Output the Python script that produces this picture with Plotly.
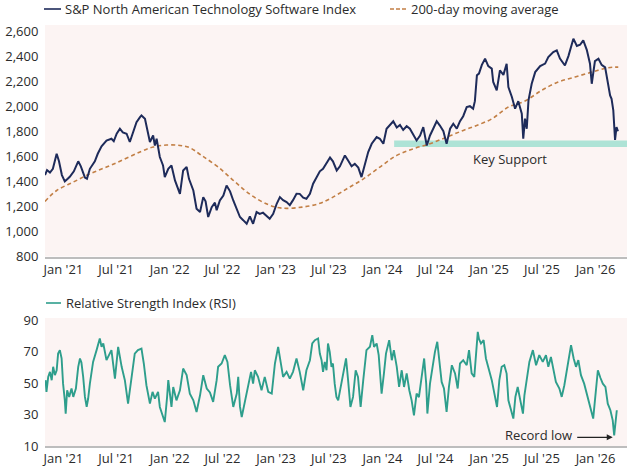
import plotly.graph_objects as go
from plotly.subplots import make_subplots

# ---------------- data ----------------
index_dates = [
    "2020-10-30", "2020-11-06", "2020-11-16", "2020-11-26", "2020-12-09", "2020-12-17", "2020-12-27",
    "2021-01-06", "2021-01-16", "2021-01-23", "2021-02-06", "2021-02-21", "2021-03-02", "2021-03-16",
    "2021-03-23", "2021-04-02", "2021-04-19", "2021-04-29", "2021-05-12", "2021-05-29", "2021-06-15",
    "2021-06-23", "2021-07-03", "2021-07-14", "2021-07-24", "2021-08-06", "2021-08-17", "2021-08-29",
    "2021-09-09", "2021-09-21", "2021-09-26", "2021-10-08", "2021-10-19", "2021-10-25", "2021-11-05",
    "2021-11-11", "2021-11-17", "2021-11-28", "2021-12-09", "2021-12-15", "2021-12-27", "2022-01-07",
    "2022-01-19", "2022-01-30", "2022-02-05", "2022-02-16", "2022-02-28", "2022-03-08", "2022-03-23",
    "2022-04-03", "2022-04-15", "2022-04-26", "2022-05-04", "2022-05-13", "2022-05-25", "2022-06-05",
    "2022-06-11", "2022-06-22", "2022-07-04", "2022-07-15", "2022-07-27", "2022-08-07", "2022-08-19",
    "2022-08-30", "2022-09-10", "2022-09-22", "2022-10-03", "2022-10-14", "2022-10-26", "2022-11-06",
    "2022-11-17", "2022-11-29", "2022-12-10", "2022-12-22", "2023-01-03", "2023-01-14", "2023-01-25",
    "2023-02-06", "2023-02-17", "2023-02-28", "2023-03-12", "2023-03-23", "2023-04-04", "2023-04-15",
    "2023-04-27", "2023-05-08", "2023-05-20", "2023-05-31", "2023-06-11", "2023-06-23", "2023-07-05",
    "2023-07-15", "2023-07-28", "2023-08-08", "2023-08-25", "2023-09-04", "2023-09-17", "2023-09-28",
    "2023-10-10", "2023-10-21", "2023-11-02", "2023-11-13", "2023-11-25", "2023-12-12", "2023-12-23",
    "2024-01-04", "2024-01-15", "2024-01-27", "2024-02-07", "2024-02-19", "2024-03-01", "2024-03-12",
    "2024-03-24", "2024-04-04", "2024-04-16", "2024-04-27", "2024-05-09", "2024-05-20", "2024-06-01",
    "2024-06-12", "2024-06-23", "2024-07-05", "2024-07-16", "2024-07-28", "2024-08-08", "2024-08-20",
    "2024-08-31", "2024-09-12", "2024-09-23", "2024-10-04", "2024-10-16", "2024-10-27", "2024-11-07",
    "2024-11-13", "2024-11-20", "2024-11-27", "2024-12-07", "2024-12-18", "2024-12-29", "2025-01-10",
    "2025-01-15", "2025-01-27", "2025-02-07", "2025-02-19", "2025-03-02", "2025-03-08", "2025-03-20",
    "2025-03-31", "2025-04-11", "2025-04-23", "2025-04-28", "2025-05-04", "2025-05-10", "2025-05-16",
    "2025-05-27", "2025-06-08", "2025-06-25", "2025-07-12", "2025-07-23", "2025-08-09", "2025-08-21",
    "2025-09-01", "2025-09-18", "2025-09-30", "2025-10-17", "2025-10-29", "2025-11-09", "2025-11-20",
    "2025-12-02", "2025-12-13", "2025-12-19", "2025-12-30", "2026-01-11", "2026-01-22", "2026-02-03",
    "2026-02-08", "2026-02-20", "2026-02-25", "2026-03-03", "2026-03-09", "2026-03-14", "2026-03-19",
]
index_values = [
    1450, 1490, 1470, 1500, 1620, 1560, 1450,
    1400, 1420, 1436, 1480, 1560, 1520, 1430,
    1420, 1500, 1560, 1620, 1680, 1726, 1740,
    1720, 1780, 1820, 1790, 1780, 1714, 1793,
    1873, 1913, 1926, 1900, 1766, 1714, 1766,
    1686, 1740, 1594, 1527, 1434, 1500, 1527,
    1407, 1340, 1300, 1487, 1514, 1420, 1327,
    1181, 1155, 1274, 1240, 1115, 1194, 1230,
    1170, 1247, 1287, 1367, 1320, 1247, 1181,
    1115, 1090, 1061, 1120, 1061, 1155, 1140,
    1150, 1127, 1101, 1140, 1221, 1274, 1250,
    1234, 1210, 1250, 1301, 1300, 1270, 1261,
    1300, 1381, 1434, 1480, 1500, 1540, 1590,
    1560, 1487, 1520, 1607, 1570, 1520, 1540,
    1510, 1434, 1530, 1634, 1700, 1753, 1740,
    1700, 1820, 1850, 1880, 1830, 1850, 1810,
    1840, 1820, 1766, 1726, 1766, 1833, 1686,
    1766, 1820, 1880, 1845, 1800, 1700, 1820,
    1860, 1820, 1880, 1920, 1993, 2000, 1980,
    2040, 2246, 2260, 2330, 2379, 2320, 2300,
    2193, 2126, 2285, 2250, 2339, 2153, 2073,
    1980, 2040, 1940, 1740, 1900, 1820, 2046,
    2179, 2272, 2320, 2340, 2392, 2432, 2445,
    2380, 2325, 2400, 2539, 2480, 2490, 2525,
    2450, 2339, 2179, 2360, 2379, 2330, 2310,
    2233, 2086, 2059, 1966, 1730, 1833, 1800,
]

ma_dates = [
    "2020-10-30", "2020-12-09", "2021-02-04", "2021-04-02", "2021-05-29", "2021-07-25", "2021-09-21",
    "2021-11-05", "2021-12-21", "2022-02-05", "2022-03-11", "2022-04-20", "2022-06-16", "2022-08-14",
    "2022-10-09", "2022-12-06", "2023-01-21", "2023-03-31", "2023-05-27", "2023-07-05", "2023-09-01",
    "2023-10-28", "2023-12-23", "2024-02-19", "2024-04-16", "2024-06-12", "2024-08-08", "2024-10-04",
    "2024-11-19", "2025-01-11", "2025-03-08", "2025-05-04", "2025-06-30", "2025-08-26", "2025-10-23",
    "2025-12-19", "2026-02-14", "2026-03-20",
]
ma_values = [
    1240, 1327, 1394, 1460, 1514, 1572, 1634,
    1674, 1690, 1686, 1668, 1607, 1514, 1394,
    1287, 1213, 1186, 1194, 1221, 1261, 1341,
    1420, 1514, 1607, 1660, 1700, 1753, 1806,
    1846, 1900, 1993, 2041, 2126, 2193, 2233,
    2272, 2307, 2312,
]

rsi_dates = [
    "2020-11-01", "2020-11-04", "2020-11-10", "2020-11-16", "2020-11-22", "2020-11-27", "2020-12-03",
    "2020-12-09", "2020-12-14", "2020-12-20", "2020-12-26", "2020-12-31", "2021-01-06", "2021-01-09",
    "2021-01-14", "2021-01-21", "2021-01-29", "2021-02-04", "2021-02-13", "2021-02-21", "2021-02-27",
    "2021-03-04", "2021-03-10", "2021-03-16", "2021-03-22", "2021-03-27", "2021-04-02", "2021-04-13",
    "2021-04-25", "2021-05-06", "2021-05-12", "2021-05-18", "2021-05-29", "2021-06-10", "2021-06-15",
    "2021-06-27", "2021-07-08", "2021-07-20", "2021-07-31", "2021-08-11", "2021-08-23", "2021-09-03",
    "2021-09-14", "2021-09-26", "2021-10-04", "2021-10-13", "2021-10-25", "2021-11-03", "2021-11-11",
    "2021-11-22", "2021-11-28", "2021-12-09", "2021-12-15", "2021-12-23", "2021-12-27", "2022-01-07",
    "2022-01-13", "2022-01-24", "2022-02-05", "2022-02-16", "2022-02-28", "2022-03-11", "2022-03-23",
    "2022-04-03", "2022-04-15", "2022-04-26", "2022-05-08", "2022-05-19", "2022-05-30", "2022-06-11",
    "2022-06-16", "2022-06-28", "2022-07-09", "2022-07-18", "2022-07-27", "2022-08-07", "2022-08-19",
    "2022-08-24", "2022-08-30", "2022-09-05", "2022-09-16", "2022-09-27", "2022-10-07", "2022-10-14",
    "2022-10-20", "2022-10-31", "2022-11-12", "2022-11-23", "2022-12-05", "2022-12-17", "2022-12-28",
    "2023-01-08", "2023-01-17", "2023-01-25", "2023-02-06", "2023-02-17", "2023-02-28", "2023-03-12",
    "2023-03-23", "2023-04-04", "2023-04-15", "2023-04-27", "2023-05-05", "2023-05-14", "2023-05-25",
    "2023-05-31", "2023-06-06", "2023-06-11", "2023-06-17", "2023-06-23", "2023-06-28", "2023-07-04",
    "2023-07-10", "2023-07-15", "2023-07-21", "2023-07-27", "2023-08-02", "2023-08-08", "2023-08-19",
    "2023-08-29", "2023-09-05", "2023-09-13", "2023-09-22", "2023-10-01", "2023-10-09", "2023-10-18",
    "2023-10-27", "2023-11-07", "2023-11-19", "2023-11-27", "2023-12-03", "2023-12-12", "2023-12-19",
    "2023-12-29", "2024-01-06", "2024-01-13", "2024-01-24", "2024-02-02", "2024-02-09", "2024-02-19",
    "2024-02-27", "2024-03-07", "2024-03-15", "2024-03-24", "2024-04-02", "2024-04-10", "2024-04-18",
    "2024-04-27", "2024-05-05", "2024-05-15", "2024-05-23", "2024-05-30", "2024-06-03", "2024-06-12",
    "2024-06-21", "2024-06-29", "2024-07-07", "2024-07-14", "2024-07-22", "2024-07-30", "2024-08-08",
    "2024-08-16", "2024-08-26", "2024-09-06", "2024-09-15", "2024-09-23", "2024-10-04", "2024-10-16",
    "2024-10-24", "2024-11-02", "2024-11-11", "2024-11-23", "2024-11-27", "2024-12-04", "2024-12-13",
    "2024-12-21", "2025-01-02", "2025-01-10", "2025-01-19", "2025-01-28", "2025-02-05", "2025-02-13",
    "2025-02-22", "2025-03-02", "2025-03-08", "2025-03-17", "2025-03-25", "2025-04-01", "2025-04-09",
    "2025-04-18", "2025-04-27", "2025-05-02", "2025-05-11", "2025-05-19", "2025-05-31", "2025-06-11",
    "2025-06-22", "2025-07-04", "2025-07-15", "2025-07-23", "2025-08-01", "2025-08-11", "2025-08-18",
    "2025-08-30", "2025-09-07", "2025-09-16", "2025-09-27", "2025-10-09", "2025-10-18", "2025-10-26",
    "2025-11-03", "2025-11-12", "2025-11-23", "2025-12-05", "2025-12-16", "2025-12-24", "2025-12-30",
    "2026-01-09", "2026-01-18", "2026-01-26", "2026-02-04", "2026-02-12", "2026-02-21", "2026-03-01",
    "2026-03-06", "2026-03-09", "2026-03-15",
]
rsi_values = [
    51.8, 44.4, 53.9, 57.1, 51.8, 60.3, 55.0,
    58.1, 68.7, 70.9, 65.6, 49.6, 39.0, 30.5,
    45.4, 41.2, 46.5, 41.2, 46.5, 60.3, 65.6,
    63.0, 53.9, 41.2, 34.8, 40.0, 49.6, 63.4,
    70.9, 78.3, 73.0, 75.1, 64.5, 68.7, 70.9,
    52.8, 73.0, 60.3, 51.8, 36.9, 53.9, 68.7,
    70.9, 71.9, 62.4, 48.6, 36.9, 44.4, 40.1,
    44.4, 34.8, 28.4, 25.2, 41.2, 51.8, 34.8,
    47.5, 39.0, 45.4, 59.2, 55.0, 43.3, 39.0,
    31.6, 42.2, 55.0, 46.5, 44.0, 38.0, 51.8,
    60.3, 62.4, 67.7, 63.4, 48.6, 34.8, 43.3,
    53.9, 35.0, 28.4, 39.0, 49.6, 57.1, 49.6,
    58.1, 53.9, 45.4, 53.9, 44.4, 43.3, 62.4,
    73.0, 62.4, 53.9, 57.1, 52.8, 57.1, 65.6,
    57.1, 45.4, 58.1, 64.5, 75.1, 77.2, 78.3,
    68.7, 64.5, 57.1, 63.4, 58.1, 75.1, 69.8,
    60.3, 62.4, 49.6, 41.2, 39.0, 45.4, 56.1,
    65.6, 51.8, 34.8, 41.2, 58.1, 53.9, 34.8,
    51.8, 70.9, 73.0, 80.4, 73.0, 75.1, 67.7,
    43.3, 56.1, 68.7, 77.2, 64.5, 70.9, 60.3,
    47.5, 58.1, 47.5, 56.1, 45.4, 39.0, 29.5,
    43.3, 41.0, 56.1, 65.6, 49.6, 30.6, 49.6,
    61.3, 69.8, 76.2, 65.6, 50.7, 46.5, 31.6,
    47.5, 61.3, 56.1, 46.5, 62.4, 64.5, 61.3,
    70.9, 56.1, 53.9, 82.5, 78.0, 75.1, 77.2,
    65.6, 58.1, 51.8, 43.3, 34.8, 51.8, 60.3,
    61.3, 56.0, 39.0, 32.7, 27.4, 41.2, 47.5,
    39.0, 30.6, 42.2, 53.9, 63.4, 70.9, 61.3,
    67.7, 63.4, 67.7, 60.3, 66.6, 56.1, 50.7,
    46.5, 41.2, 48.6, 60.3, 74.1, 65.6, 60.3,
    64.5, 55.0, 49.6, 41.2, 34.8, 27.4, 39.0,
    58.1, 53.2, 49.6, 47.5, 36.9, 32.7, 26.3,
    16.8, 21.0, 32.7,
]

tick_dates = ["2021-01-01", "2021-07-01", "2022-01-01", "2022-07-01", "2023-01-01", "2023-07-01",
              "2024-01-01", "2024-07-01", "2025-01-01", "2025-07-01", "2026-01-01"]
tick_labels = ["Jan '21", "Jul '21", "Jan '22", "Jul '22", "Jan '23", "Jul '23",
               "Jan '24", "Jul '24", "Jan '25", "Jul '25", "Jan '26"]
price_ticks = [800, 1000, 1200, 1400, 1600, 1800, 2000, 2200, 2400, 2600]
price_tick_labels = ["800", "1,000", "1,200", "1,400", "1,600", "1,800", "2,000", "2,200", "2,400", "2,600"]
rsi_ticks = [10, 30, 50, 70, 90]

support_start = "2024-02-10"
support_low, support_high = 1674, 1726
key_support_label = ("2025-03-14", 1575)
record_low_label = ("2025-06-21", 16.8)
record_low_point = ("2026-03-01", 15.5)

x_range = ["2020-10-30", "2026-04-19"]

# ---------------- styling ----------------
NAVY = "#1E2B5A"
ORANGE = "#C27F45"
TEAL = "#2E9E8C"
MINT = "#AEE3D6"
PINK = "#FCF4F3"
TEXT = "#2B2B2B"
AXIS = "#BDBDBD"
FONT = "Open Sans"

W, H = 631, 474
ML, MR, MT, MB = 45, 4, 25, 28
PW, PH = W - ML - MR, H - MT - MB


def px_x(px):
    return (px - ML) / PW


def px_y(py):
    return (H - MB - py) / PH


fig = make_subplots(rows=2, cols=1)

fig.add_trace(go.Scatter(x=ma_dates, y=ma_values, mode="lines", line_shape="spline",
                         line=dict(color=ORANGE, width=1.6, dash="4px,3px"),
                         showlegend=False, hoverinfo="skip"), row=1, col=1)
fig.add_trace(go.Scatter(x=index_dates, y=index_values, mode="lines",
                         line=dict(color=NAVY, width=2.0),
                         showlegend=False), row=1, col=1)
fig.add_trace(go.Scatter(x=rsi_dates, y=rsi_values, mode="lines",
                         line=dict(color=TEAL, width=1.9),
                         showlegend=False), row=2, col=1)

# key support band (drawn below traces)
fig.add_shape(type="rect", xref="x", yref="y", x0=support_start, x1=x_range[1],
              y0=support_low, y1=support_high, fillcolor=MINT, line=dict(width=0),
              layer="below")

axis_common = dict(showgrid=False, zeroline=False, automargin=False,
                   tickfont=dict(family=FONT, size=13, color=TEXT))

fig.update_xaxes(range=x_range, tickmode="array", tickvals=tick_dates, ticktext=tick_labels,
                 showline=True, linecolor=AXIS, linewidth=1.5, ticks="", **axis_common)
fig.update_yaxes(showline=False, ticks="outside", ticklen=3, tickcolor="rgba(0,0,0,0)", **axis_common)

fig.update_layout(
    yaxis=dict(domain=[px_y(256.5), 1.0], range=[800, 2648], tickmode="array",
               tickvals=price_ticks, ticktext=price_tick_labels),
    yaxis2=dict(domain=[0.0, px_y(318)], range=[10, 91.3], tickmode="array", tickvals=rsi_ticks),
    xaxis=dict(anchor="y"),
    xaxis2=dict(anchor="y2"),
)

# legends drawn as line samples + text
def legend_item(x0, x1, y, color, dash, text, xt):
    fig.add_shape(type="line", xref="paper", yref="paper", x0=px_x(x0), x1=px_x(x1),
                  y0=px_y(y), y1=px_y(y), line=dict(color=color, width=1.6, dash=dash))
    fig.add_annotation(xref="paper", yref="paper", x=px_x(xt), y=px_y(y), text=text,
                       showarrow=False, xanchor="left", yanchor="middle",
                       font=dict(family=FONT, size=13, color=TEXT))

legend_item(44, 61, 9, NAVY, "solid", "S&P North American Technology Software Index", 63)
legend_item(390, 407, 9, ORANGE, "4px,2px", "200-day moving average", 409)
legend_item(46, 61, 303, TEAL, "solid", "Relative Strength Index (RSI)", 64)

fig.add_annotation(xref="x", yref="y", x=key_support_label[0], y=key_support_label[1],
                   text="Key Support", showarrow=False,
                   font=dict(family=FONT, size=13, color=TEXT))
fig.add_annotation(xref="x2", yref="y2", x=record_low_label[0], y=record_low_label[1],
                   text="Record low", showarrow=False,
                   font=dict(family=FONT, size=13, color=TEXT))
fig.add_annotation(xref="x2", yref="y2", x=record_low_point[0], y=record_low_point[1],
                   ax=-37, ay=0, text="", showarrow=True, arrowhead=2, arrowsize=1,
                   arrowwidth=1.2, arrowcolor="#222222", standoff=0)

fig.update_layout(width=W, height=H, margin=dict(l=ML, r=MR, t=MT, b=MB),
                  paper_bgcolor="white", plot_bgcolor=PINK, showlegend=False,
                  font=dict(family=FONT, color=TEXT))

fig.write_html("out.html", config={"displayModeBar": False},
               post_script="document.body.style.margin='0';")
